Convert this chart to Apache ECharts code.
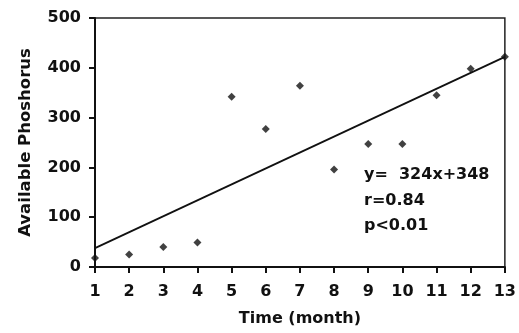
<!DOCTYPE html>
<html>
<head>
<meta charset="utf-8">
<script src="https://cdn.jsdelivr.net/npm/echarts@6/dist/echarts.min.js"></script>
<style>html,body{margin:0;padding:0;background:#fff}#c{width:519px;height:333px}</style>
</head>
<body>
<div id="c"></div>
<script>
const months = [1,2,3,4,5,6,7,8,9,10,11,12,13];
const phosphorus = [18,25,40,49,342,277,364,196,247,247,345,398,422];
const trendX = [1,13];
const trendY = [38,422];
const xTicks = [1,2,3,4,5,6,7,8,9,10,11,12,13];
const yTicks = [0,100,200,300,400,500];
const statsLines = ['y=  324x+348','r=0.84','p<0.01'];

const chart = echarts.init(document.getElementById('c'));
const font = '"DejaVu Sans", Verdana, sans-serif';
chart.setOption({
  animation:false,
  backgroundColor:'#fff',
  grid:{left:95,right:11,top:18,bottom:66,show:true,borderColor:'#222',borderWidth:1.5},
  xAxis:{type:'value',min:1,max:13,interval:1,
    name:'Time (month)',nameLocation:'middle',nameGap:44,
    nameTextStyle:{fontFamily:font,fontSize:16,fontWeight:'bold',color:'#111'},
    axisLine:{show:true,onZero:false,lineStyle:{color:'#111',width:2}},
    axisTick:{show:true,inside:false,length:6,lineStyle:{color:'#111',width:2}},
    axisLabel:{fontFamily:font,fontSize:16,fontWeight:'bold',color:'#111',margin:17,
      formatter:v=>xTicks.includes(v)?String(v):''},
    splitLine:{show:false}},
  yAxis:{type:'value',min:0,max:500,interval:100,
    name:'Available Phoshorus',nameLocation:'middle',nameGap:61,
    nameTextStyle:{fontFamily:font,fontSize:16.5,fontWeight:'bold',color:'#111'},
    axisLine:{show:true,lineStyle:{color:'#111',width:2}},
    axisTick:{show:true,length:6,lineStyle:{color:'#111',width:2}},
    axisLabel:{fontFamily:font,fontSize:16,fontWeight:'bold',color:'#111',margin:14,
      formatter:v=>yTicks.includes(v)?String(v):''},
    splitLine:{show:false}},
  series:[
    {type:'line',data:trendX.map((x,i)=>[x,trendY[i]]),symbol:'none',
      lineStyle:{color:'#111',width:1.8},z:2},
    {type:'scatter',data:months.map((m,i)=>[m,phosphorus[i]]),symbol:'diamond',symbolSize:8,
      itemStyle:{color:'#111'},z:3}
  ],
  graphic:statsLines.map((t,i)=>({type:'text',left:364,top:167+i*25.5,
    style:{text:t,fontFamily:font,fontSize:16,fontWeight:'bold',fill:'#111'}}))
});
</script>
</body>
</html>
